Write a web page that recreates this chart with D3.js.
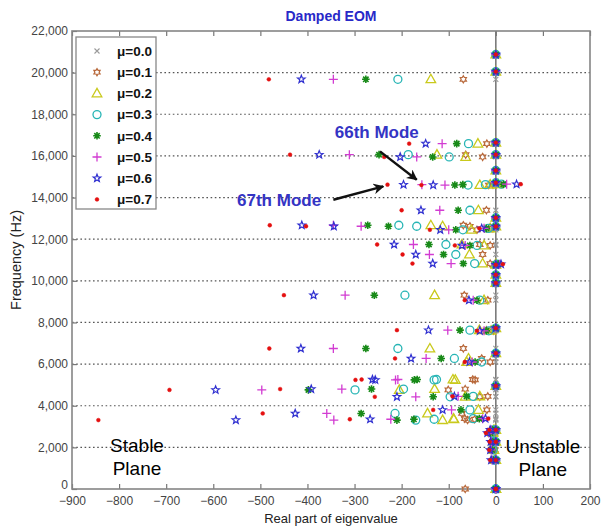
<!DOCTYPE html>
<html><head><meta charset="utf-8">
<script src="https://cdn.jsdelivr.net/npm/d3@7"></script>
<style>
html,body{margin:0;padding:0;background:#fff;}
svg{display:block;font-family:"Liberation Sans",Arial,sans-serif;}
</style></head>
<body>
<svg id="chart" width="610" height="530"></svg>
<script>
// ---- data ----
const muLabels = ["μ=0.0","μ=0.1","μ=0.2","μ=0.3","μ=0.4","μ=0.5","μ=0.6","μ=0.7"];
const xTicks = [-900,-800,-700,-600,-500,-400,-300,-200,-100,0,100,200];
const yTicks = [0,2000,4000,6000,8000,10000,12000,14000,16000,18000,20000,22000];
// frequency (Hz) of each damped mode
const modeHz = [19680,16060,15950,16590,14600,14620,14640,13390,12670,12620,12450,12520,11745,11700,11265,10830,10800,9310,9070,7630,7600,6750,6270,6100,5240,5260,4760,4800,4430,4450,3630,3310,3350,3800,3380,2840,2690,2270,1875,1390,0];
// real part of eigenvalue for each mode, per friction coefficient
const re00 = [0,0,0,0,0,0,0,0,0,0,0,0,0,0,0,0,0,0,0,0,0,0,0,0,0,0,0,0,0,0,0,0,0,0,0,0,0,0,0,0,0];
const re01 = [-69,-64,-28,-19,-15,-6,2,-20,-69,-55,-40,-8,-34,-12,-28,-12,-2,-67,-17,-20,-5,-69,-30,-12,-44,-49,-101,-65,-34,-17,-72,-60,-45,-19,-66,-2,-3,-1,-2,-1,-65];
const re02 = [-138,-125,-64,-38,-34,-12,5,-37,-138,-113,-52,-12,-72,-25,-56,-28,0,-130,-25,-35,-10,-140,-58,-62,-86,-91,-205,-130,-65,-34,-145,-113,-89,-37,-90,-4,-6,-3,-4,-2,0];
const re03 = [-208,-186,-99,-58,-59,-22,12,-55,-206,-168,-70,-16,-106,-40,-85,-45,3,-193,-34,-55,-15,-208,-88,-30,-131,-126,-299,-196,-97,-48,-214,-170,-131,-55,-48,-6,-9,-5,-6,-4,0];
const re04 = [-276,-248,-134,-83,-87,-70,16,-80,-272,-228,-85,-20,-142,-55,-111,-69,5,-258,-40,-76,-20,-276,-116,-44,-173,-167,-398,-264,-133,-62,-286,-210,-174,-74,-35,-8,-12,-7,-8,-6,0];
const re05 = [-345,-311,-168,-114,-108,-157,23,-119,-345,-286,-100,-25,-175,-65,-141,-95,8,-320,-48,-102,-25,-345,-148,-50,-213,-208,-497,-327,-170,-80,-359,-344,-223,-94,-28,-10,-15,-9,-10,-8,0];
const re06 = [-413,-375,-203,-149,-133,-196,44,-159,-412,-344,-118,-30,-216,-72,-170,-134,11,-387,-57,-143,-34,-414,-180,-56,-256,-262,-595,-392,-210,-88,-426,-552,-267,-113,-22,-12,-18,-11,-12,-10,0];
const re07 = [-482,-437,-237,-184,-158,-230,53,-200,-480,-403,-140,-35,-252,-87,-198,-177,15,-450,-66,-210,-40,-481,-214,-66,-298,-285,-693,-458,-257,-92,-495,-844,-310,-133,-16,-14,-21,-13,-14,-12,0];
// modes that stay on the imaginary axis (real part 0) for every μ
const zeroHz = [20870,20050,16640,16060,15300,14710,13030,12610,10770,10290,9900,7730,6520,4950,2840,2270,1390,0];

const reBySeries = [re00,re01,re02,re03,re04,re05,re06,re07];
const colors = ["#9a9a9a","#b8683a","#c9c91c","#27b5b5","#188a18","#d23cd2","#2f2fd0","#e41010"];

// ---- layout ----
const svg = d3.select("#chart");
const x = d3.scaleLinear([-900,200],[72,590]);
const y = d3.scaleLinear([0,22000],[489,31]);

// grid
svg.append("g").selectAll("line").data(yTicks.filter(t=>t>0&&t<22000)).join("line")
  .attr("x1",x(-900)).attr("x2",x(200)).attr("y1",d=>y(d)).attr("y2",d=>y(d))
  .attr("stroke","#555").attr("stroke-width",1.2).attr("stroke-dasharray","1.6,2.6");

// zero line
svg.append("line").attr("x1",x(0)).attr("x2",x(0)).attr("y1",y(22000)).attr("y2",y(0))
  .attr("stroke","#7a7a7a").attr("stroke-width",1.6);

// axes
function styleAxis(g){
  g.select(".domain").remove();
  g.selectAll(".tick line").attr("stroke","#777").attr("stroke-width",1.2);
  g.selectAll(".tick text").attr("fill","#444").style("font-size","12px").style("font-family","'Liberation Sans',Arial,sans-serif");
}
svg.append("g").attr("transform",`translate(0,${y(0)})`)
  .call(d3.axisBottom(x).tickValues(xTicks).tickSizeInner(-5).tickSizeOuter(0).tickPadding(7).tickFormat(d3.format("d")))
  .call(styleAxis);
svg.append("g").attr("transform",`translate(0,${y(22000)})`)
  .call(d3.axisTop(x).tickValues(xTicks).tickSizeInner(-5).tickSizeOuter(0).tickFormat(""))
  .call(styleAxis);
const yAxisG = svg.append("g").attr("transform",`translate(${x(-900)},0)`)
  .call(d3.axisLeft(y).tickValues(yTicks).tickSizeInner(-5).tickSizeOuter(0).tickPadding(4).tickFormat(d3.format(",")))
  .call(styleAxis);
// lift the "0" label slightly so it stacks above the "-900" label as in the original
yAxisG.selectAll(".tick text").filter(d=>d===0).attr("dy","-0.05em");

// box
svg.append("rect").attr("x",x(-900)).attr("y",y(22000)).attr("width",x(200)-x(-900)).attr("height",y(0)-y(22000))
  .attr("fill","none").attr("stroke","#858585").attr("stroke-width",1.6);

// marker shapes
function starPath(n,R,r){let p="";for(let i=0;i<2*n;i++){const a=-Math.PI/2+i*Math.PI/n;const rr=i%2?r:R;p+=(i?"L":"M")+(rr*Math.cos(a)).toFixed(2)+","+(rr*Math.sin(a)).toFixed(2);}return p+"Z";}
const shapes = [
  {d:"M-2.5,-2.5L2.5,2.5M-2.5,2.5L2.5,-2.5", fill:false, sw:1.1},
  {d:starPath(6,3.6,2.1), fill:false, sw:1.2},
  {d:"M0,-5L4.8,3.4L-4.8,3.4Z", fill:false, sw:1.3},
  {d:"M4,0A4,4 0 1,1 -4,0A4,4 0 1,1 4,0Z", fill:false, sw:1.3},
  {d:"M-3.8,0L3.8,0M0,-3.8L0,3.8M-2.7,-2.7L2.7,2.7M-2.7,2.7L2.7,-2.7", fill:false, sw:1.6, dot:2},
  {d:"M-4.5,0L4.5,0M0,-4.5L0,4.5", fill:false, sw:1.3},
  {d:starPath(5,4,1.7), fill:false, sw:1.2},
  {d:"M1.9,0A1.9,1.9 0 1,1 -1.9,0A1.9,1.9 0 1,1 1.9,0Z", fill:true, sw:0.5}
];
function drawMarker(g,k){
  const s=shapes[k];
  g.append("path").attr("d",s.d).attr("fill",s.fill?colors[k]:"none").attr("stroke",colors[k]).attr("stroke-width",s.sw);
  if(s.dot) g.append("circle").attr("r",s.dot).attr("fill",colors[k]);
}

// points
reBySeries.forEach((re,k)=>{
  const pts = modeHz.map((hz,i)=>[re[i],hz]).concat(zeroHz.map(hz=>[0,hz]));
  const g = svg.append("g").attr("class","series-"+k);
  g.selectAll("g").data(pts).join("g")
    .attr("transform",d=>`translate(${x(d[0])},${y(d[1])})`)
    .each(function(){drawMarker(d3.select(this),k);});
});

// legend
const lg = svg.append("g");
lg.append("rect").attr("x",76).attr("y",37).attr("width",80).attr("height",172)
  .attr("fill","#fff").attr("stroke","#888").attr("stroke-width",1.3);
muLabels.forEach((lab,k)=>{
  const cy = 51 + k*21.2;
  drawMarker(lg.append("g").attr("transform",`translate(97,${cy})`),k);
  lg.append("text").attr("x",117).attr("y",cy).attr("dy","0.36em")
    .style("font-size","13.5px").style("font-weight","bold").attr("fill","#111").text(lab);
});

// title & axis labels
svg.append("text").attr("x",(x(-900)+x(200))/2).attr("y",21).attr("text-anchor","middle")
  .style("font-size","14px").style("font-weight","bold").attr("fill","#2828c8").text("Damped EOM");
svg.append("text").attr("x",(x(-900)+x(200))/2).attr("y",523).attr("text-anchor","middle")
  .style("font-size","13px").attr("fill","#222").text("Real part of eigenvalue");
svg.append("text").attr("transform",`translate(21,${(y(0)+y(22000))/2}) rotate(-90)`).attr("text-anchor","middle")
  .style("font-size","14.5px").attr("fill","#222").text("Frequency (Hz)");

// plane labels
[["Stable",-762,1779],["Plane",-762,673],["Unstable",100,1731],["Plane",100,625]].forEach(([t,re,hz])=>{
  svg.append("text").attr("x",x(re)).attr("y",y(hz)).attr("text-anchor","middle")
    .style("font-size","19px").attr("fill","#000").text(t);
});

// mode annotations
const defs = svg.append("defs");
defs.append("marker").attr("id","ah").attr("viewBox","0 0 10 10").attr("refX",9).attr("refY",5)
  .attr("markerWidth",4.5).attr("markerHeight",4.5).attr("orient","auto")
  .append("path").attr("d","M0,0L10,5L0,10L3,5Z").attr("fill","#111");
const notes = [
  {text:"66th Mode", tx:-342, ty:16876, anchor:"start", from:[-246,16217], to:[-168,14857]},
  {text:"67th Mode", tx:-371, ty:13607, anchor:"end", from:[-345,13895], to:[-239,14535]}
];
notes.forEach(n=>{
  svg.append("text").attr("x",x(n.tx)).attr("y",y(n.ty)).attr("text-anchor",n.anchor)
    .style("font-size","17px").style("font-weight","bold").attr("fill","#3434c4").text(n.text);
  svg.append("line").attr("x1",x(n.from[0])).attr("y1",y(n.from[1])).attr("x2",x(n.to[0])).attr("y2",y(n.to[1]))
    .attr("stroke","#111").attr("stroke-width",2.4).attr("marker-end","url(#ah)");
});
</script>
</body></html>
